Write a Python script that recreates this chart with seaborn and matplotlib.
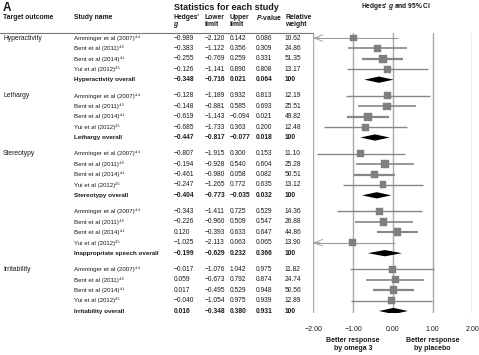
import numpy as np
import pandas as pd
import matplotlib
matplotlib.use("Agg")
import matplotlib.pyplot as plt
import matplotlib.transforms as mtransforms
from matplotlib.lines import Line2D
import seaborn as sns

# ---- data -------------------------------------------------------------
outcomes = ["Hyperactivity", "Lethargy", "Stereotypy",
            "Inappropriate speech", "Irritability"]
study_names = ["Amminger et al (2007)", "Bent et al (2011)",
               "Bent et al (2014)", "Yui et al (2012)"]
study_refs = ["\u2074\u2074", "\u2074\u00b3", "\u2074\u00b9", "\u00b2\u2075"]

# five rows per outcome: 4 studies then the pooled estimate
hedges_g = [-0.989, -0.383, -0.255, -0.126, -0.348,
            -0.128, -0.148, -0.619, -0.685, -0.447,
            -0.807, -0.194, -0.461, -0.247, -0.404,
            -0.343, -0.226, 0.120, -1.025, -0.199,
            -0.017, 0.059, 0.017, -0.040, 0.016]
lower_limit = [-2.120, -1.122, -0.769, -1.141, -0.716,
               -1.189, -0.881, -1.143, -1.733, -0.817,
               -1.915, -0.928, -0.980, -1.265, -0.773,
               -1.411, -0.960, -0.393, -2.113, -0.629,
               -1.076, -0.673, -0.495, -1.054, -0.348]
upper_limit = [0.142, 0.356, 0.259, 0.890, 0.021,
               0.932, 0.585, -0.094, 0.363, -0.077,
               0.300, 0.540, 0.058, 0.772, -0.035,
               0.725, 0.509, 0.633, 0.063, 0.232,
               1.042, 0.792, 0.529, 0.975, 0.380]
p_value = [0.086, 0.309, 0.331, 0.808, 0.064,
           0.813, 0.693, 0.021, 0.200, 0.018,
           0.153, 0.604, 0.082, 0.635, 0.032,
           0.529, 0.547, 0.647, 0.065, 0.366,
           0.975, 0.874, 0.948, 0.939, 0.931]
rel_weight = [10.62, 24.86, 51.35, 13.17, 100,
              12.19, 25.51, 49.82, 12.48, 100,
              11.10, 25.28, 50.51, 13.12, 100,
              14.36, 26.88, 44.86, 13.90, 100,
              11.82, 24.74, 50.56, 12.89, 100]
x_ticks = [-2, -1, 0, 1, 2]

# ---- style ------------------------------------------------------------
sns.set_theme(style="white")
plt.rcParams["font.family"] = ["Liberation Sans", "DejaVu Sans"]
plt.rcParams["mathtext.fontset"] = "custom"
plt.rcParams["mathtext.rm"] = "Liberation Sans"
plt.rcParams["mathtext.it"] = "Liberation Sans:italic:bold"
plt.rcParams["mathtext.bf"] = "Liberation Sans:bold"

TXT = "#1a1a1a"
W, H = 479, 355
HEAD = 4.9
GAP = 0.55

rows = []
for gi, outcome in enumerate(outcomes):
    for k in range(5):
        i = gi * 5 + k
        rows.append({
            "outcome": outcome,
            "overall": k == 4,
            "label": f"{outcome} overall" if k == 4 else study_names[k] + study_refs[k],
            "g": hedges_g[i], "lo": lower_limit[i], "hi": upper_limit[i],
            "p": p_value[i], "w": rel_weight[i],
            "y": k + gi * (5 + GAP),
        })
df = pd.DataFrame(rows)
studies = df[~df["overall"]]
pooled = df[df["overall"]]

fig = plt.figure(figsize=(W / 100, H / 100), dpi=100)
x0, x1 = 313.3, 472.3
top_px, bot_px = 33, 313
ax = fig.add_axes([x0 / W, 1 - bot_px / H, (x1 - x0) / W, (bot_px - top_px) / H])
px_per_row = 10.42
ax.set_xlim(-2, 2)
ax.set_ylim((bot_px - 38) / px_per_row, (top_px - 38) / px_per_row)
for s in ax.spines.values():
    s.set_visible(False)
for xv in x_ticks:
    ax.axvline(xv, color="#a9a9a9", lw=1.0, zorder=0)

# confidence intervals
for _, r in studies.iterrows():
    lw = 0.8 + 0.016 * r["w"]
    if r["lo"] < -2:
        ax.hlines(r["y"], -2, r["hi"], color="#9a9a9a", lw=lw * 0.8, zorder=2)
        ax.annotate("", xy=(-2, r["y"]), xytext=(-1.85, r["y"]),
                    arrowprops=dict(arrowstyle="->,head_length=0.5,head_width=0.2",
                                    color="#9a9a9a", lw=0.6,
                                    shrinkA=0, shrinkB=0))
    else:
        ax.hlines(r["y"], r["lo"], r["hi"], color="#878787", lw=lw, zorder=2)

sns.scatterplot(data=studies, x="g", y="y", size="w", sizes=(24, 32),
                marker="s", color="#7f7f7f", edgecolor="#7f7f7f",
                linewidth=0.3, legend=False, ax=ax, zorder=3)

for _, r in pooled.iterrows():
    ax.fill([r["lo"], r["g"], r["hi"], r["g"]],
            [r["y"], r["y"] - 0.3, r["y"], r["y"] + 0.3],
            color="black", lw=0, zorder=3)

ax.set_xticks(x_ticks)
ax.set_xticklabels([f"{v:.2f}".replace("-", "\u2212") for v in x_ticks])
ax.set_yticks([])
ax.set_xlabel("")
ax.set_ylabel("")
ax.tick_params(axis="x", length=0, pad=9.5, labelsize=5.0, colors=TXT)

# ---- table ------------------------------------------------------------
tr = mtransforms.blended_transform_factory(fig.transFigure, ax.transData)


def fmt(v):
    return f"{v:.3f}".replace("-", "\u2212")


cols = {"g": 173.3, "lo": 204.5, "hi": 229.3, "p": 256, "w": 285}
for _, r in df.iterrows():
    wt = "bold" if r["overall"] else "normal"
    kw = dict(transform=tr, va="center", ha="left", fontweight=wt, color=TXT)
    if r["y"] % (5 + GAP) == 0:
        ax.text(3 / W, r["y"], r["outcome"], fontsize=4.9, **kw)
    ax.text(74 / W, r["y"], r["label"], fontsize=4.5 if r["overall"] else 4.4, **kw)
    for c, xp in cols.items():
        if c == "w":
            s = "100" if r["overall"] else f"{r['w']:.2f}"
        else:
            s = fmt(r[c])
        ax.text(xp / W, r["y"], s, fontsize=4.8, **kw)


def ftext(x, y, s, **kw):
    fig.text(x / W, 1 - y / H, s, va="center", color=TXT, **kw)


ftext(3, 8, "A", fontsize=8.5, fontweight="bold")
ftext(174, 7, "Statistics for each study", fontsize=6.5, fontweight="bold")
ftext(396, 7, "Hedges' $\\it{g}$ and 95% CI", fontsize=4.8,
      fontweight="bold", ha="center")
ftext(3, 17.5, "Target outcome", fontsize=HEAD, fontweight="bold")
ftext(74, 17.5, "Study name", fontsize=HEAD, fontweight="bold")
ftext(173.3, 17.5, "Hedges'", fontsize=HEAD, fontweight="bold")
ftext(173.3, 25, "$\\it{g}$", fontsize=HEAD, fontweight="bold")
ftext(204.5, 17.5, "Lower", fontsize=HEAD, fontweight="bold")
ftext(204.5, 25, "limit", fontsize=HEAD, fontweight="bold")
ftext(229.3, 17.5, "Upper", fontsize=HEAD, fontweight="bold")
ftext(229.3, 25, "limit", fontsize=HEAD, fontweight="bold")
ftext(256, 17.5, "$\\it{P}$-value", fontsize=HEAD, fontweight="bold")
ftext(285, 17.5, "Relative", fontsize=HEAD, fontweight="bold")
ftext(285, 25, "weight", fontsize=HEAD, fontweight="bold")

fig.add_artist(Line2D([0, x0 / W], [1 - 32.5 / H, 1 - 32.5 / H],
                      color="#777777", lw=0.8, transform=fig.transFigure))

# direction labels under the axis
tr2 = mtransforms.blended_transform_factory(ax.transData, fig.transFigure)
for xv, s in [(-1, "Better response\nby omega 3"), (1, "Better response\nby placebo")]:
    ax.text(xv, 1 - 344.5 / H, s, transform=tr2, ha="center", va="center",
            fontsize=5, fontweight="bold", color=TXT, linespacing=1.1)

fig.savefig("out.png", dpi=100)
